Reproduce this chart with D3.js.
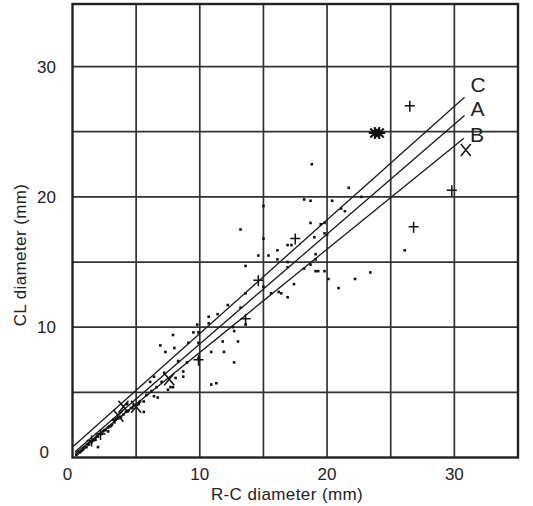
<!DOCTYPE html>
<html>
<head>
<meta charset="utf-8">
<script src="https://cdn.jsdelivr.net/npm/d3@7/dist/d3.min.js"></script>
<style>
  body { margin: 0; background: #fff; }
  text { font-family: "Liberation Sans", Arial, sans-serif; fill: #222; }
</style>
</head>
<body>
<div id="content"></div>
<script>
// tick labels
var xTicks = [0, 10, 20, 30];
var yTicks = [0, 10, 20, 30];
var gridSteps = [5, 10, 15, 20, 25, 30];

// regression lines, [x0, y0, x1, y1]
var lineNames = ['C', 'A', 'B'];
var lineEnds = [
  [0.05, 0.85, 30.8, 27.65],
  [0.2, 0.45, 30.8, 26.25],
  [0.2, 0.3, 30.75, 24.5]
];

// scattered measurements (R-C, CL)
var dotX = [18.8, 21.7, 22.7, 18.2, 18.7, 20.4, 21.1, 21.4, 15.0, 13.2, 18.7, 19.5, 19.8, 15.0, 16.9, 17.2,
  19.0, 20.0, 26.1, 16.1, 14.6, 15.4, 16.1, 19.1, 19.1, 13.6, 16.9, 18.2, 19.1, 19.8, 23.4, 22.2, 20.1,
  17.4, 20.9, 15.6, 16.2, 16.4, 16.9, 13.6, 15.0, 12.2, 13.2, 11.4, 10.7, 10.7, 9.8, 12.7, 9.5, 7.9, 11.8,
  13.0, 9.1, 9.9, 6.9, 7.3, 8.0, 9.9, 10.9, 11.9, 9.0, 8.3, 9.9, 12.7, 11.3, 7.2, 6.4, 8.1, 8.7, 7.9, 7.5,
  6.1, 6.4, 6.7, 5.6, 5.6, 4.7, 4.3, 5.2, 3.0, 2.8, 2.0, 1.7, 3.8, 3.2, 10.9, 7.7, 16.9, 12.6, 13.6, 18.7,
  19.3, 19.8, 8.7,
  0.3, 0.4, 0.5, 0.6, 0.7, 0.8, 0.9, 1.0, 1.1, 1.2, 1.3, 1.4, 1.5, 1.6, 1.8, 1.9, 2.0, 2.1, 2.3, 2.4,
  2.5, 2.6, 2.8, 2.9, 3.1, 3.3, 3.4, 3.6, 3.8, 4.0, 4.2, 4.4, 4.6, 4.8, 5.3, 5.8, 6.2, 6.6, 7.0];
var dotY = [22.5, 20.7, 20.0, 19.8, 19.7, 19.7, 19.1, 18.9, 19.3, 17.5, 18.0, 17.9, 18.0, 16.8, 16.3, 16.3,
  16.9, 17.1, 15.9, 15.9, 15.5, 15.5, 15.2, 15.6, 15.2, 14.7, 14.6, 14.5, 14.3, 14.3, 14.2, 13.7, 13.7,
  13.3, 13.0, 12.6, 12.7, 12.6, 12.3, 12.6, 13.1, 11.7, 11.5, 11.0, 10.8, 10.3, 10.2, 9.7, 9.6, 9.4, 8.9,
  8.9, 8.8, 9.6, 8.6, 8.1, 8.4, 8.8, 8.1, 8.1, 7.3, 7.4, 7.6, 7.3, 5.7, 6.5, 6.2, 6.1, 6.2, 5.4, 5.2,
  5.8, 4.7, 4.6, 4.3, 3.5, 3.8, 4.1, 4.1, 2.4, 2.0, 0.8, 1.4, 3.1, 2.9, 5.6, 5.4, 15.0, 10.0, 10.2, 14.8,
  14.3, 17.2, 6.6,
  0.2, 0.3, 0.4, 0.4, 0.5, 0.6, 0.7, 0.8, 0.8, 1.0, 1.0, 1.2, 1.2, 1.3, 1.4, 1.6, 1.6, 1.8, 1.8, 2.0,
  2.1, 2.1, 2.3, 2.4, 2.5, 2.7, 2.9, 3.0, 3.1, 3.3, 3.5, 3.6, 3.8, 4.0, 4.3, 4.8, 5.1, 5.4, 5.8];

// other symbols
var plusPts = [[26.5, 27.0], [29.8, 20.5], [26.8, 17.7], [17.5, 16.8], [14.6, 13.6], [13.6, 10.65],
  [9.9, 7.5], [2.2, 1.8], [1.5, 1.3]];
var crossPts = [[30.9, 23.6], [7.6, 6.0], [4.0, 3.9], [5.0, 3.9], [3.6, 3.2]];
var starPts = [[23.75, 24.9], [24.1, 24.9]];

var width = 533,
    height = 506;

var svg = d3.select('#content').append('svg')
  .attr('width', width)
  .attr('height', height);

var x = d3.scaleLinear().domain([0, 35]).range([72.5, 518]);
var y = d3.scaleLinear().domain([0, 34.8]).range([457.5, 4]);

// grid
var grid = svg.append('g').attr('stroke', '#333').attr('stroke-width', 1.7);
grid.selectAll('.vx').data(gridSteps).enter().append('line')
  .attr('x1', function(d) { return x(d); }).attr('x2', function(d) { return x(d); })
  .attr('y1', y(0)).attr('y2', y(34.8));
grid.selectAll('.hy').data(gridSteps).enter().append('line')
  .attr('y1', function(d) { return y(d); }).attr('y2', function(d) { return y(d); })
  .attr('x1', x(0)).attr('x2', x(35));

// frame
svg.append('rect')
  .attr('x', x(0)).attr('y', y(34.8))
  .attr('width', x(35) - x(0)).attr('height', y(0) - y(34.8))
  .attr('fill', 'none').attr('stroke', '#222').attr('stroke-width', 2.4);

// tick labels
svg.selectAll('.xt').data(xTicks).enter().append('text')
  .attr('x', function(d) { return x(d) - (d === 0 ? 5 : 0); })
  .attr('y', 480)
  .attr('text-anchor', 'middle')
  .style('font-size', '17px')
  .text(function(d) { return d; });
svg.selectAll('.yt').data(yTicks).enter().append('text')
  .attr('x', function(d) { return d === 0 ? 49 : 56; })
  .attr('y', function(d) { return y(d) + 6 - (d === 0 ? 6 : 0); })
  .attr('text-anchor', 'end')
  .style('font-size', '17px')
  .text(function(d) { return d; });

// axis titles
svg.append('text')
  .attr('x', 287).attr('y', 500)
  .attr('text-anchor', 'middle')
  .style('font-size', '17px')
  .style('letter-spacing', '0.4px')
  .text('R-C diameter (mm)');
svg.append('text')
  .attr('transform', 'translate(26,255) rotate(-90)')
  .attr('text-anchor', 'middle')
  .style('font-size', '17px')
  .style('letter-spacing', '0.4px')
  .text('CL diameter (mm)');

// regression lines
svg.selectAll('.fit').data(lineEnds).enter().append('line')
  .attr('x1', function(d) { return x(d[0]); }).attr('y1', function(d) { return y(d[1]); })
  .attr('x2', function(d) { return x(d[2]); }).attr('y2', function(d) { return y(d[3]); })
  .attr('stroke', '#1a1a1a').attr('stroke-width', 1.3);
svg.selectAll('.fitlabel').data(lineNames).enter().append('text')
  .attr('x', function(d, i) { return x(lineEnds[i][2]) + 6; })
  .attr('y', function(d, i) { return [92, 116, 142][i]; })
  .style('font-size', '21px')
  .text(function(d) { return d; });

// dots
var dots = dotX.map(function(v, i) { return [v, dotY[i]]; });
svg.selectAll('.dot').data(dots).enter().append('rect')
  .attr('x', function(d) { return x(d[0]) - 1.3; })
  .attr('y', function(d) { return y(d[1]) - 1.3; })
  .attr('width', 2.6).attr('height', 2.6)
  .attr('fill', '#111');

// + symbols
var sym = svg.append('g').attr('stroke', '#111').attr('stroke-width', 1.5).attr('fill', 'none');
sym.selectAll('.plus').data(plusPts).enter().append('path')
  .attr('d', function(d) {
    var cx = x(d[0]), cy = y(d[1]);
    return 'M' + (cx - 5) + ',' + cy + 'H' + (cx + 5) + 'M' + cx + ',' + (cy - 5) + 'V' + (cy + 6);
  });
// x symbols
sym.selectAll('.cross').data(crossPts).enter().append('path')
  .attr('d', function(d) {
    var cx = x(d[0]), cy = y(d[1]);
    return 'M' + (cx - 5) + ',' + (cy - 6) + 'L' + (cx + 5) + ',' + (cy + 6) +
      'M' + (cx + 5) + ',' + (cy - 6) + 'L' + (cx - 5) + ',' + (cy + 6);
  });
// asterisks
sym.selectAll('.star').data(starPts).enter().append('path')
  .attr('stroke-width', 2)
  .attr('d', function(d) {
    var cx = x(d[0]), cy = y(d[1]);
    return 'M' + (cx - 6) + ',' + cy + 'H' + (cx + 6) + 'M' + cx + ',' + (cy - 6) + 'V' + (cy + 6) +
      'M' + (cx - 4.5) + ',' + (cy - 4.5) + 'L' + (cx + 4.5) + ',' + (cy + 4.5) +
      'M' + (cx + 4.5) + ',' + (cy - 4.5) + 'L' + (cx - 4.5) + ',' + (cy + 4.5);
  });
</script>
</body>
</html>
